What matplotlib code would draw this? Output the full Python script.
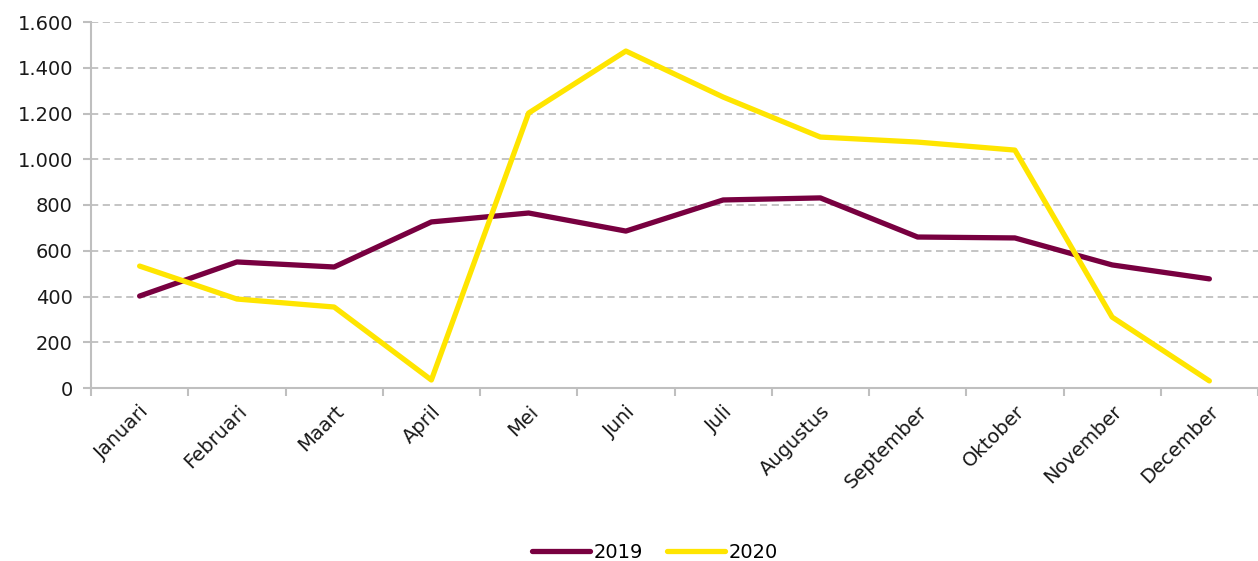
import matplotlib.pyplot as plt
import numpy as np

months = ['Januari', 'Februari', 'Maart', 'April', 'Mei', 'Juni', 'Juli',
          'Augustus', 'September', 'Oktober', 'November', 'December']
v2019 = [402, 551, 529, 726, 765, 686, 822, 831, 660, 656, 538, 477]
v2020 = [533, 389, 354, 35, 1202, 1473, 1272, 1097, 1075, 1040, 310, 31]

W, H = 1258, 561
fig = plt.figure(figsize=(W / 100, H / 100), dpi=100)
ax = fig.add_axes([91 / W, (H - 388) / H, (W - 91) / W, 366 / H])

x = np.arange(len(months))
ax.plot(x, v2019, color='#780040', lw=3.8, label='2019', solid_capstyle='round')
ax.plot(x, v2020, color='#ffe500', lw=3.8, label='2020', solid_capstyle='round')

step = (1217 - 238) / 10
ax.set_xlim(-0.5, -0.5 + (W - 91) / step)
ax.set_ylim(0, 1600)
ax.set_yticks(np.arange(0, 1601, 200))
ax.set_yticklabels([f'{v:,}'.replace(',', '.') for v in range(0, 1601, 200)])
ax.set_xticks(x)
ax.set_xticklabels(months, rotation=45, ha='right', rotation_mode='anchor')
ax.set_xticks(np.arange(-0.5, 12, 1), minor=True)
ax.tick_params(axis='x', which='major', length=0, pad=10, labelsize=14, colors='#1a1a1a')
ax.tick_params(axis='x', which='minor', length=6, color='#bfbfbf', width=1.5)
ax.tick_params(axis='y', length=6, color='#bfbfbf', width=1.5, labelsize=14,
               labelcolor='#1a1a1a', pad=7)

ax.grid(axis='y', color='#bfbfbf', ls=(0, (4, 2.5)), lw=1.3)
ax.set_axisbelow(True)
for s in ['top', 'right']:
    ax.spines[s].set_visible(False)
for s in ['left', 'bottom']:
    ax.spines[s].set_color('#bfbfbf')
    ax.spines[s].set_linewidth(1.5)

fig.legend(loc='center', bbox_to_anchor=(655 / W, (H - 552) / H), ncol=2,
           frameon=False, fontsize=14, handlelength=3.0, handletextpad=0.2,
           columnspacing=1.2)

fig.savefig('out.png', dpi=100)
